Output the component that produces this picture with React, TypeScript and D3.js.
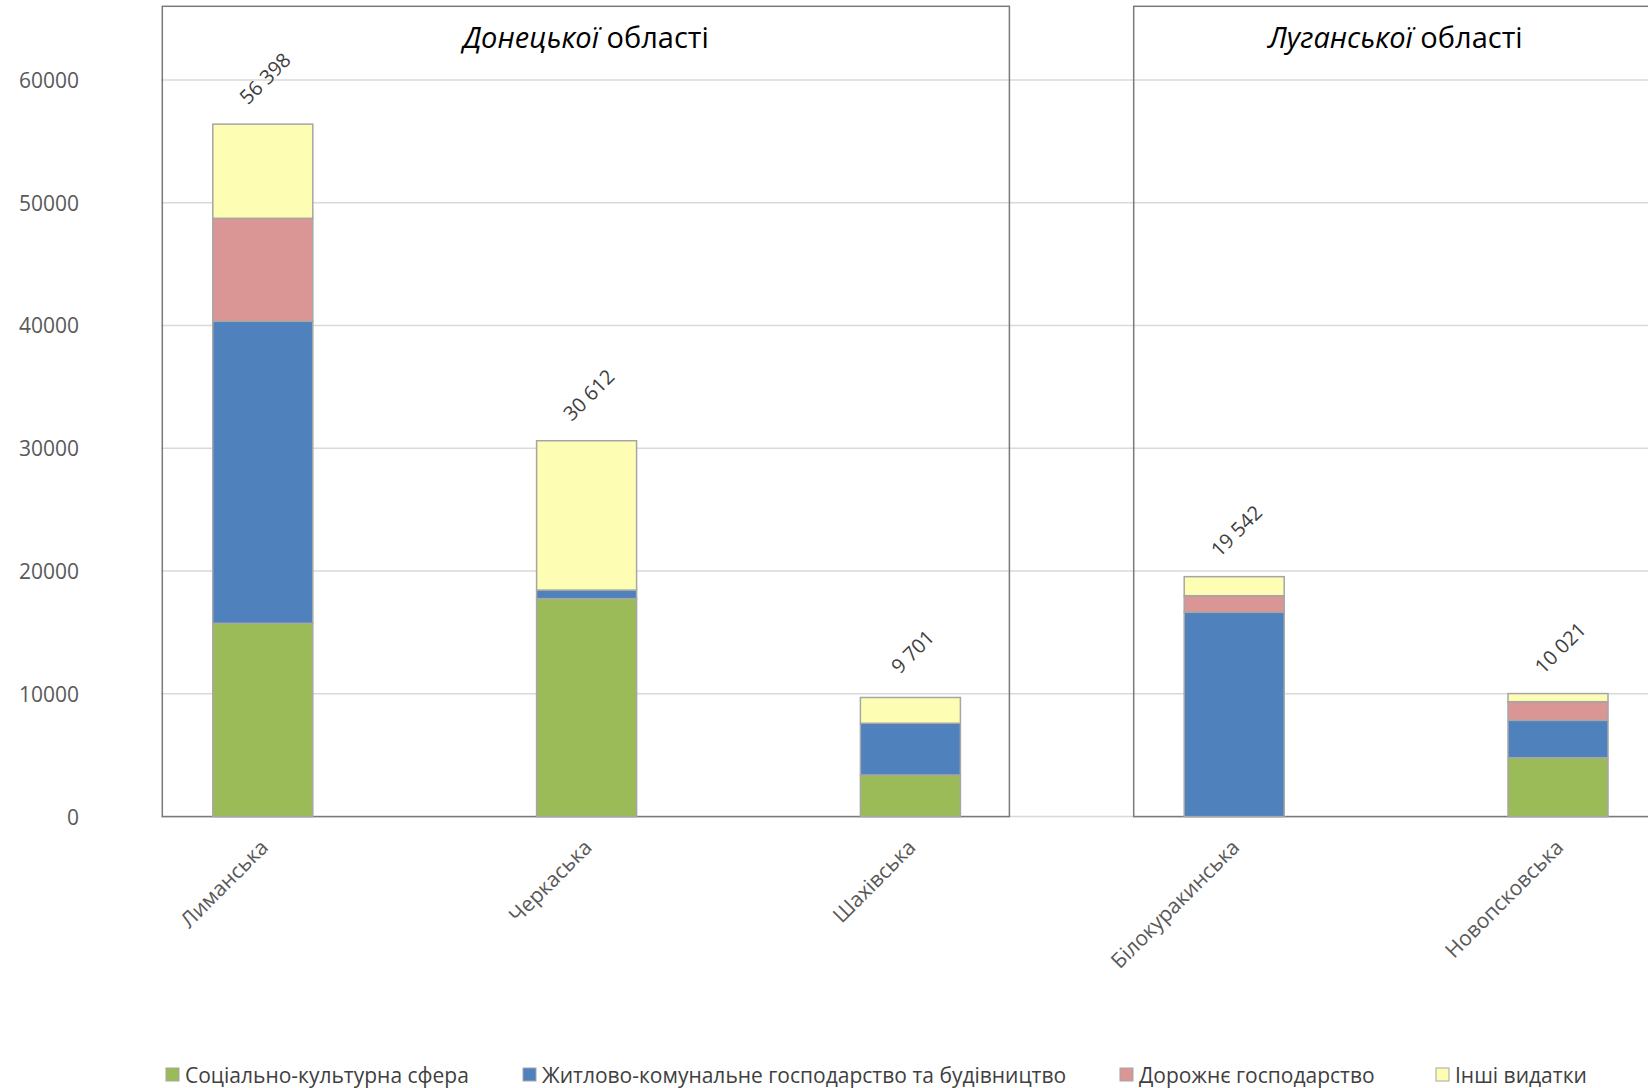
import React from "react";
import * as d3 from "d3";

const categories = ["Лиманська", "Черкаська", "Шахівська", "Білокуракинська", "Новопсковська"];
const socialCultural = [15745, 17750, 3390, 0, 4800];
const housingConstruction = [24595, 700, 4210, 16640, 3040];
const roads = [8390, 0, 0, 1350, 1520];
const otherSpending = [7668, 12162, 2101, 1552, 661];
const totals = [56398, 30612, 9701, 19542, 10021];
const seriesNames = [
  "Соціально-культурна сфера",
  "Житлово-комунальне господарство та будівництво",
  "Дорожнє господарство",
  "Інші видатки",
];
const seriesColors = ["#9bbb59", "#4f81bd", "#d99694", "#fdfdb3"];
const yTicks = [0, 10000, 20000, 30000, 40000, 50000, 60000];
const regionItalic = ["Донецької", "Луганської"];
const regionRest = [" області", " області"];
const regionFirst = [0, 3];
const regionLast = [2, 4];

const W = 1648;
const H = 1088;
const FONT = "'Open Sans', 'Noto Sans', sans-serif";

export default function App() {
  const x = d3.scalePoint<string>().domain(categories).range([262.8, 1558]).padding(0);
  const y = d3.scaleLinear().domain([0, 60000]).range([816.6, 79.9]);
  const barW = 100;

  const keys = ["s0", "s1", "s2", "s3"];
  const table = categories.map((c, i) => ({
    cat: c,
    s0: socialCultural[i],
    s1: housingConstruction[i],
    s2: roads[i],
    s3: otherSpending[i],
  }));
  const stacked = d3.stack<any>().keys(keys)(table);

  const fmtLocale = d3.formatLocale({ decimal: ",", thousands: " ", grouping: [3], currency: ["", ""] });
  const fmt = fmtLocale.format(",d");

  const legendX = [166, 523, 1120, 1436];

  return (
    <svg
      width={W}
      height={H}
      style={{ position: "absolute", left: 0, top: 0, background: "#fff" }}
      fontFamily={FONT}
    >
      <rect x={0} y={0} width={W} height={H} fill="#fff" />
      {/* gridlines */}
      {yTicks.map((t) => (
        <line key={t} x1={161} x2={W} y1={y(t)} y2={y(t)} stroke="#d9d9d9" strokeWidth={1.5} />
      ))}
      {/* y tick labels */}
      {yTicks.map((t) => (
        <text
          key={"l" + t}
          x={79}
          y={y(t)}
          textAnchor="end"
          dominantBaseline="central"
          fontSize={21}
          fill="#595959"
        >
          {t}
        </text>
      ))}
      {/* region panels */}
      {regionItalic.map((r, i) => {
        const left = (x(categories[regionFirst[i]]) as number) - 100.5;
        const right = (x(categories[regionLast[i]]) as number) + 99;
        return (
          <g key={"p" + i}>
            <rect
              x={left}
              y={6.3}
              width={right - left}
              height={y(0) - 6.3}
              fill="none"
              stroke="#7a7a7a"
              strokeWidth={1.5}
            />
            <text x={(left + right) / 2} y={36} textAnchor="middle" dominantBaseline="central" fontSize={29} fill="#000">
              <tspan fontStyle="italic">{r}</tspan>
              <tspan>{regionRest[i]}</tspan>
            </text>
          </g>
        );
      })}
      {/* bars */}
      {stacked.map((layer, si) => (
        <g key={"s" + si}>
          {layer.map((d, i) =>
            d[1] - d[0] > 0 ? (
              <rect
                key={i}
                x={(x(categories[i]) as number) - barW / 2}
                y={y(d[1])}
                width={barW}
                height={y(d[0]) - y(d[1])}
                fill={seriesColors[si]}
                stroke="#a6a6a6"
                strokeWidth={1.5}
              />
            ) : null
          )}
        </g>
      ))}
      {/* total labels */}
      {categories.map((c, i) => {
        const cx = (x(c) as number) + 2;
        const cy = y(totals[i]) - 46;
        return (
          <text
            key={"t" + i}
            x={cx}
            y={cy}
            textAnchor="middle"
            dominantBaseline="central"
            fontSize={20}
            fill="#404040"
            transform={`rotate(-45 ${cx} ${cy})`}
          >
            {fmt(totals[i])}
          </text>
        );
      })}
      {/* category labels */}
      {categories.map((c) => {
        const ax = (x(c) as number) + 1;
        const ay = 843;
        return (
          <text
            key={"c" + c}
            x={ax}
            y={ay}
            textAnchor="end"
            dominantBaseline="central"
            fontSize={21}
            fill="#595959"
            transform={`rotate(-45 ${ax} ${ay})`}
          >
            {c}
          </text>
        );
      })}
      {/* legend */}
      {seriesNames.map((n, i) => (
        <g key={"lg" + i}>
          <rect x={legendX[i]} y={1068} width={13} height={13} fill={seriesColors[i]} stroke="#a6a6a6" strokeWidth={1} />
          <text x={legendX[i] + 19} y={1075} dominantBaseline="central" fontSize={21} fill="#404040">
            {n}
          </text>
        </g>
      ))}
    </svg>
  );
}
